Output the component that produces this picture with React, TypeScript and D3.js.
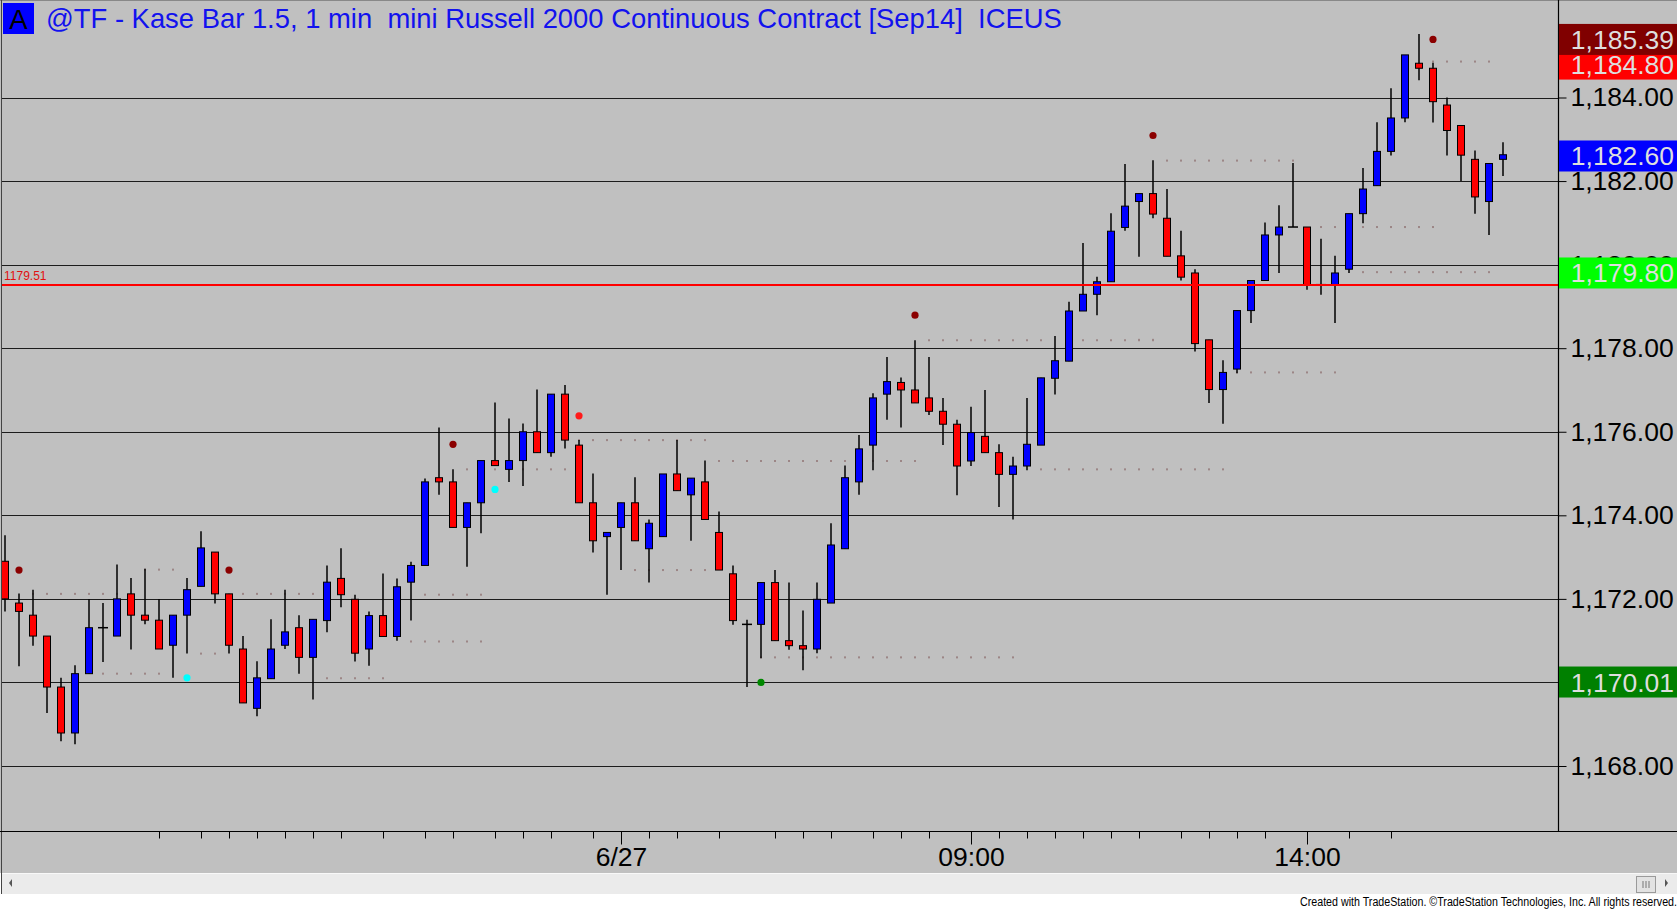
import React, { useRef, useEffect } from 'react';
import * as d3 from 'd3';

// Kase bars, read left to right (bar index 0..107)
const opens = [
  1172.90, 1171.90, 1171.61, 1171.11, 1169.89, 1168.79, 1170.21, 1171.31, 1171.11, 1172.12,
  1171.61, 1171.49, 1170.89, 1171.61, 1172.30, 1173.12, 1172.12, 1170.80, 1169.38, 1170.09,
  1170.89, 1171.31, 1170.60, 1171.48, 1172.49, 1171.99, 1170.80, 1171.60, 1171.10, 1172.40,
  1172.80, 1174.90, 1174.80, 1173.71, 1174.30, 1175.31, 1175.10, 1175.31, 1176.00, 1175.50,
  1176.90, 1175.68, 1174.30, 1173.49, 1173.71, 1174.30, 1173.20, 1173.49, 1174.99, 1174.49,
  1174.80, 1173.59, 1172.60, 1171.39, 1171.39, 1172.39, 1171.00, 1170.88, 1170.80, 1171.90,
  1173.20, 1174.80, 1175.68, 1176.90, 1177.18, 1177.00, 1176.81, 1176.49, 1176.18, 1175.30,
  1175.89, 1175.50, 1174.98, 1175.18, 1175.68, 1177.28, 1177.69, 1178.89, 1179.29, 1179.59,
  1180.89, 1181.51, 1181.70, 1181.11, 1180.21, 1179.80, 1178.20, 1177.01, 1177.50, 1178.90,
  1179.62, 1180.71, 1180.90, 1180.90, 1179.52, 1179.52, 1179.89, 1181.22, 1181.89, 1182.71,
  1183.51, 1184.82, 1184.70, 1183.82, 1183.33, 1182.52, 1181.51, 1182.52,
];
const highs = [
  1173.52, 1172.13, 1172.22, 1171.11, 1170.11, 1170.41, 1172.00, 1171.90, 1172.82, 1172.50,
  1172.72, 1172.00, 1171.61, 1172.50, 1173.62, 1173.12, 1172.12, 1171.11, 1170.51, 1171.51,
  1172.22, 1171.61, 1171.51, 1172.80, 1173.21, 1172.10, 1171.70, 1172.61, 1172.49, 1172.89,
  1174.88, 1176.10, 1175.10, 1174.30, 1175.31, 1176.70, 1176.32, 1176.20, 1177.01, 1176.90,
  1177.12, 1175.80, 1175.00, 1173.59, 1174.30, 1174.91, 1173.90, 1174.99, 1175.80, 1174.89,
  1175.31, 1174.09, 1172.80, 1171.50, 1172.39, 1172.69, 1172.39, 1171.72, 1172.39, 1173.81,
  1175.19, 1175.92, 1176.92, 1177.79, 1177.30, 1178.19, 1177.79, 1176.81, 1176.29, 1176.60,
  1177.00, 1175.70, 1175.40, 1176.81, 1177.29, 1178.29, 1179.11, 1180.52, 1179.71, 1181.23,
  1182.41, 1181.70, 1182.50, 1181.81, 1180.81, 1179.89, 1178.20, 1177.71, 1178.90, 1179.62,
  1181.01, 1181.42, 1182.43, 1180.90, 1180.62, 1180.21, 1181.22, 1182.31, 1183.41, 1184.22,
  1185.02, 1185.52, 1184.83, 1184.00, 1183.33, 1182.73, 1182.42, 1182.93,
];
const lows = [
  1171.70, 1170.39, 1170.88, 1169.27, 1168.59, 1168.52, 1170.21, 1170.49, 1171.11, 1170.79,
  1171.39, 1170.80, 1170.11, 1170.69, 1172.30, 1171.89, 1170.69, 1169.51, 1169.19, 1170.09,
  1170.80, 1170.21, 1169.59, 1171.20, 1171.80, 1170.50, 1170.40, 1171.10, 1171.00, 1171.48,
  1172.80, 1174.49, 1173.71, 1172.77, 1173.57, 1175.19, 1174.80, 1174.70, 1175.50, 1175.40,
  1175.60, 1174.30, 1173.11, 1172.10, 1172.69, 1173.39, 1172.39, 1173.49, 1174.59, 1173.39,
  1173.90, 1172.69, 1171.38, 1169.89, 1170.58, 1171.00, 1170.78, 1170.29, 1170.70, 1171.90,
  1173.20, 1174.49, 1175.08, 1176.29, 1176.10, 1176.69, 1176.40, 1175.68, 1174.48, 1175.18,
  1175.50, 1174.20, 1173.90, 1175.08, 1175.68, 1176.89, 1177.69, 1178.89, 1178.79, 1179.59,
  1180.81, 1180.19, 1181.11, 1180.20, 1179.62, 1177.92, 1176.69, 1176.19, 1177.40, 1178.60,
  1179.62, 1179.80, 1180.90, 1179.40, 1179.28, 1178.60, 1179.80, 1180.99, 1181.89, 1182.61,
  1183.41, 1184.41, 1183.40, 1182.61, 1182.00, 1181.22, 1180.71, 1182.12,
];
const closes = [
  1172.00, 1171.70, 1171.11, 1169.89, 1168.79, 1170.21, 1171.31, 1171.31, 1172.00, 1171.61,
  1171.49, 1170.80, 1171.61, 1172.22, 1173.22, 1172.12, 1170.89, 1169.51, 1170.11, 1170.80,
  1171.21, 1170.60, 1171.51, 1172.40, 1172.10, 1170.70, 1171.60, 1171.10, 1172.29, 1172.80,
  1174.80, 1174.80, 1173.71, 1174.30, 1175.31, 1175.19, 1175.31, 1176.00, 1175.50, 1176.90,
  1175.80, 1174.30, 1173.39, 1173.59, 1174.30, 1173.39, 1173.81, 1174.99, 1174.59, 1174.89,
  1173.90, 1172.69, 1171.48, 1171.39, 1172.39, 1171.00, 1170.88, 1170.80, 1171.99, 1173.29,
  1174.90, 1175.59, 1176.81, 1177.20, 1177.00, 1176.69, 1176.49, 1176.18, 1175.18, 1175.98,
  1175.50, 1174.98, 1175.18, 1175.70, 1177.29, 1177.70, 1178.89, 1179.29, 1179.59, 1180.80,
  1181.40, 1181.70, 1181.21, 1180.20, 1179.70, 1178.11, 1177.01, 1177.42, 1178.90, 1179.62,
  1180.71, 1180.90, 1180.90, 1179.52, 1179.52, 1179.80, 1181.22, 1181.81, 1182.71, 1183.51,
  1185.02, 1184.70, 1183.90, 1183.21, 1182.62, 1181.62, 1182.42, 1182.63,
];

// price axis
const priceTicks = [1168, 1170, 1172, 1174, 1176, 1178, 1180, 1182, 1184];

// time axis (bar indices where a tick sits)
const timeTicks = [11, 14, 16, 18, 20, 22, 24, 27, 30, 32, 35, 37, 39, 42, 44, 46, 48, 51, 55,
  57, 59, 62, 64, 66, 69, 71, 73, 75, 77, 79, 81, 84, 86, 88, 90, 93, 96, 99];
const timeLabelBars = [44, 69, 93];
const timeLabels = ['6/27', '09:00', '14:00'];

// Kase signal dots
const signalBars = [1, 13, 16, 32, 35, 41, 54, 65, 82, 102];
const signalPrices = [1172.69, 1170.11, 1172.69, 1175.70, 1174.62, 1176.38, 1170.00, 1178.79, 1183.09, 1185.39];
const signalKinds = ['peakStrong', 'trough', 'peakStrong', 'peakStrong', 'trough', 'peak', 'troughStrong', 'peakStrong', 'peakStrong', 'peakStrong'];

// faint dotted levels
const levelStart = [2, 17, 10, 14, 7, 41, 33, 30, 29, 23, 51, 45, 54, 66, 77, 63, 74, 83, 94, 97, 81, 88, 102, 99];
const levelEnd = [8, 24, 12, 15, 11, 50, 40, 34, 34, 27, 65, 50, 72, 74, 82, 65, 87, 92, 101, 106, 82, 95, 106, 102];
const levelPrices = [1172.12, 1172.12, 1172.70, 1170.69, 1170.21, 1175.80, 1175.10, 1172.10, 1170.98, 1170.10,
  1175.30, 1172.69, 1170.60, 1178.19, 1178.19, 1175.30, 1175.10, 1182.49, 1180.90, 1179.82, 1178.20, 1177.42, 1184.86, 1180.90];

// price markers on the right scale
const markerPrices = [1184.80, 1185.39, 1182.60, 1179.80, 1170.01];
const markerKinds = ['high', 'peak', 'last', 'pivot', 'low'];

const refLinePrice = 1179.51;

const title = '@TF - Kase Bar 1.5, 1 min  mini Russell 2000 Continuous Contract [Sep14]  ICEUS';

const signalColor: { [k: string]: string } = {
  peakStrong: '#8b0000', peak: '#ff1a1a', trough: '#00ffff', troughStrong: '#008800',
};
const markerColor: { [k: string]: string } = {
  high: '#ff0000', peak: '#800000', last: '#0000ff', pivot: '#00ff00', low: '#008000',
};

const KaseChart = () => {
  const svgRef = useRef<SVGSVGElement>(null);

  useEffect(() => {
    if (!svgRef.current) return;
    const W = 1679, H = 909;
    const plotRight = 1558, plotBottom = 831;
    const font = "'Liberation Sans', Arial, sans-serif";

    const svg = d3.select(svgRef.current);
    svg.selectAll('*').remove();
    svg.attr('width', W).attr('height', H);

    const x = d3.scaleLinear().domain([0, opens.length - 1]).range([5, 5 + 14 * (opens.length - 1)]);
    const y = d3.scaleLinear().domain([1168, 1184]).range([766, 97.5]);

    // backgrounds
    svg.append('rect').attr('width', W).attr('height', H).attr('fill', '#ffffff');
    svg.append('rect').attr('width', 1677).attr('height', 873).attr('fill', '#c0c0c0');

    // grid
    svg.append('g').selectAll('line').data(priceTicks).join('line')
      .attr('x1', 2).attr('x2', plotRight)
      .attr('y1', d => Math.round(y(d)) + 0.5).attr('y2', d => Math.round(y(d)) + 0.5)
      .attr('stroke', '#1c1c1c').attr('stroke-width', 1.2);

    // dotted levels
    const levelDots: { i: number; p: number }[] = [];
    levelStart.forEach((s, k) => {
      d3.range(s, levelEnd[k] + 1).forEach(i => levelDots.push({ i, p: levelPrices[k] }));
    });
    svg.append('g').selectAll('rect').data(levelDots).join('rect')
      .attr('x', d => x(d.i) - 1).attr('y', d => y(d.p) - 1)
      .attr('width', 2).attr('height', 2).attr('fill', '#9c8686');

    // candles
    const idx = d3.range(opens.length);
    const candles = svg.append('g');
    candles.selectAll('line').data(idx).join('line')
      .attr('x1', i => x(i)).attr('x2', i => x(i))
      .attr('y1', i => y(highs[i])).attr('y2', i => y(lows[i]))
      .attr('stroke', '#000').attr('stroke-width', 1.5);

    candles.selectAll('rect.body').data(idx.filter(i => opens[i] !== closes[i])).join('rect')
      .attr('class', 'body')
      .attr('x', i => x(i) - 3.5).attr('width', 7)
      .attr('y', i => y(Math.max(opens[i], closes[i])))
      .attr('height', i => Math.max(Math.abs(y(opens[i]) - y(closes[i])), 2))
      .attr('fill', i => (closes[i] > opens[i] ? '#0000ff' : '#ff0000'))
      .attr('stroke', '#000').attr('stroke-width', 1);

    candles.selectAll('rect.doji').data(idx.filter(i => opens[i] === closes[i])).join('rect')
      .attr('class', 'doji')
      .attr('x', i => x(i) - 5).attr('width', 10)
      .attr('y', i => y(opens[i]) - 0.75).attr('height', 1.5)
      .attr('fill', '#000');

    // signal dots
    svg.append('g').selectAll('circle').data(signalBars).join('circle')
      .attr('cx', (b) => x(b)).attr('cy', (b, k) => y(signalPrices[k]))
      .attr('r', 3.6).attr('fill', (b, k) => signalColor[signalKinds[k]]);

    // reference line
    svg.append('line')
      .attr('x1', 2).attr('x2', plotRight)
      .attr('y1', y(refLinePrice)).attr('y2', y(refLinePrice))
      .attr('stroke', '#ff0000').attr('stroke-width', 2);
    svg.append('text')
      .attr('x', 4).attr('y', y(refLinePrice) - 5)
      .attr('font-family', font).attr('font-size', 12).attr('fill', '#e01010')
      .text(d3.format('.2f')(refLinePrice));

    // frame
    svg.append('line').attr('x1', 0).attr('x2', 1677).attr('y1', 0.5).attr('y2', 0.5).attr('stroke', '#888');
    svg.append('line').attr('x1', 1.5).attr('x2', 1.5).attr('y1', 0).attr('y2', 894).attr('stroke', '#444');
    svg.append('line').attr('x1', plotRight + 0.5).attr('x2', plotRight + 0.5).attr('y1', 0).attr('y2', plotBottom)
      .attr('stroke', '#000').attr('stroke-width', 1.2);

    // right price axis
    const yAxis = d3.axisRight(y).tickValues(priceTicks).tickSize(8).tickPadding(4)
      .tickFormat(d => d3.format(',.2f')(d as number));
    const ya = svg.append('g').attr('transform', `translate(${plotRight + 0.5},0)`).call(yAxis);
    ya.select('.domain').remove();
    ya.selectAll('line').attr('stroke', '#000');
    ya.selectAll('text').attr('font-family', font).attr('font-size', 26.5).attr('fill', '#000');

    // price markers
    const mk = svg.append('g').selectAll('g').data(markerPrices).join('g')
      .attr('transform', p => `translate(${plotRight + 1},${y(p)})`);
    mk.append('rect').attr('x', 0).attr('y', -15.5).attr('width', 1677 - plotRight - 1).attr('height', 31)
      .attr('fill', (p, k) => markerColor[markerKinds[k]]);
    mk.append('text').attr('x', 115).attr('y', 9.5).attr('text-anchor', 'end')
      .attr('font-family', font).attr('font-size', 26.5).attr('fill', '#dedede')
      .text(p => d3.format(',.2f')(p));

    // bottom time axis
    const xAxis = d3.axisBottom(x).tickValues(timeTicks).tickSize(7).tickPadding(9)
      .tickFormat(d => {
        const k = timeLabelBars.indexOf(d as number);
        return k >= 0 ? timeLabels[k] : '';
      });
    const xa = svg.append('g').attr('transform', `translate(0,${plotBottom + 0.5})`).call(xAxis);
    xa.select('.domain').remove();
    xa.selectAll('line').attr('stroke', '#000')
      .attr('y2', d => (timeLabelBars.includes(d as number) ? 13 : 7));
    xa.selectAll('text').attr('font-family', font).attr('font-size', 26.5).attr('fill', '#000');
    svg.append('line').attr('x1', 0).attr('x2', 1677).attr('y1', plotBottom + 0.5).attr('y2', plotBottom + 0.5)
      .attr('stroke', '#000').attr('stroke-width', 1.2);

    // title
    svg.append('rect').attr('x', 3).attr('y', 3).attr('width', 31).attr('height', 31).attr('fill', '#0000ff');
    svg.append('text').attr('x', 18.5).attr('y', 29).attr('text-anchor', 'middle')
      .attr('font-family', font).attr('font-size', 27.5).attr('fill', '#000').text('A');
    svg.append('text').attr('x', 46).attr('y', 28)
      .attr('font-family', font).attr('font-size', 27.4).attr('fill', '#1212ee')
      .style('white-space', 'pre').text(title);

    // scrollbar
    svg.append('rect').attr('x', 2).attr('y', 873).attr('width', 1675).attr('height', 21).attr('fill', '#ebebeb');
    svg.append('line').attr('x1', 2).attr('x2', 1677).attr('y1', 873.5).attr('y2', 873.5).attr('stroke', '#f8f8f8');
    svg.append('path').attr('d', 'M12,879 L9,883 L12,887 Z').attr('fill', '#555');
    svg.append('rect').attr('x', 1636.5).attr('y', 876.5).attr('width', 19).attr('height', 16)
      .attr('fill', '#e2e2e2').attr('stroke', '#9a9a9a');
    [1643, 1646, 1649].forEach(xx => {
      svg.append('line').attr('x1', xx).attr('x2', xx).attr('y1', 881).attr('y2', 888).attr('stroke', '#777');
    });
    svg.append('path').attr('d', 'M1665,879 L1668,883 L1665,887 Z').attr('fill', '#555');

    svg.append('text').attr('x', 1677).attr('y', 906).attr('text-anchor', 'end')
      .attr('font-family', font).attr('font-size', 12).attr('fill', '#000')
      .attr('textLength', 377).attr('lengthAdjust', 'spacingAndGlyphs')
      .text('Created with TradeStation. \u00A9TradeStation Technologies, Inc. All rights reserved.');
  }, []);

  return <svg ref={svgRef} style={{ position: 'absolute', left: 0, top: 0, display: 'block' }} />;
};

export default function App() {
  return <KaseChart />;
}
